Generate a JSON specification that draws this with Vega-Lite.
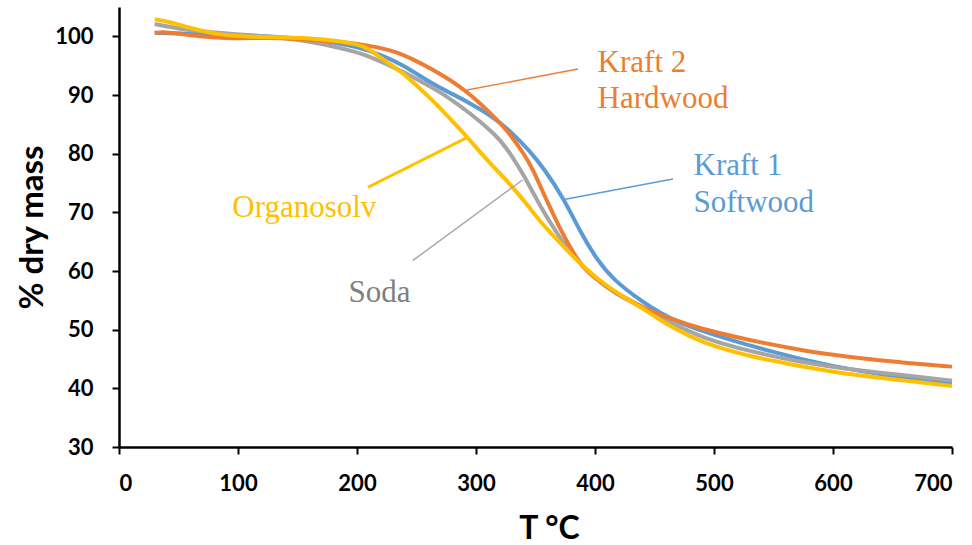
{
  "$schema": "https://vega.github.io/schema/vega-lite/v6.json",
  "width": 833,
  "height": 440,
  "autosize": "none",
  "padding": {"left": 119, "top": 7, "right": 20, "bottom": 98},
  "background": "white",
  "config": {"view": {"stroke": null}},
  "datasets": {
    "curves": [
      {"s":"Kraft 1","T":30,"m":100.6},{"s":"Kraft 1","T":50,"m":100.5},{"s":"Kraft 1","T":80,"m":100.3},{"s":"Kraft 1","T":100,"m":100.2},{"s":"Kraft 1","T":130,"m":100.0},{"s":"Kraft 1","T":160,"m":99.5},{"s":"Kraft 1","T":180,"m":99.0},{"s":"Kraft 1","T":200,"m":98.2},{"s":"Kraft 1","T":220,"m":96.9},{"s":"Kraft 1","T":240,"m":95.0},{"s":"Kraft 1","T":262,"m":92.0},{"s":"Kraft 1","T":280,"m":90.2},{"s":"Kraft 1","T":295,"m":88.6},{"s":"Kraft 1","T":310,"m":86.8},{"s":"Kraft 1","T":320,"m":85.3},{"s":"Kraft 1","T":330,"m":83.6},{"s":"Kraft 1","T":345,"m":80.5},{"s":"Kraft 1","T":357,"m":77.5},{"s":"Kraft 1","T":374,"m":72.3},{"s":"Kraft 1","T":388,"m":66.5},{"s":"Kraft 1","T":402,"m":61.8},{"s":"Kraft 1","T":416,"m":58.4},{"s":"Kraft 1","T":438,"m":55.0},{"s":"Kraft 1","T":455,"m":52.8},{"s":"Kraft 1","T":472,"m":51.1},{"s":"Kraft 1","T":490,"m":49.8},{"s":"Kraft 1","T":510,"m":48.5},{"s":"Kraft 1","T":530,"m":47.3},{"s":"Kraft 1","T":550,"m":46.2},{"s":"Kraft 1","T":575,"m":44.9},{"s":"Kraft 1","T":600,"m":43.8},{"s":"Kraft 1","T":625,"m":42.9},{"s":"Kraft 1","T":650,"m":42.1},{"s":"Kraft 1","T":675,"m":41.5},{"s":"Kraft 1","T":700,"m":41.0},
      {"s":"Soda","T":30,"m":102.1},{"s":"Soda","T":55,"m":101.1},{"s":"Soda","T":88,"m":100.5},{"s":"Soda","T":110,"m":100.2},{"s":"Soda","T":140,"m":99.7},{"s":"Soda","T":160,"m":99.1},{"s":"Soda","T":180,"m":98.3},{"s":"Soda","T":200,"m":97.3},{"s":"Soda","T":210,"m":96.6},{"s":"Soda","T":236,"m":94.3},{"s":"Soda","T":262,"m":91.4},{"s":"Soda","T":276,"m":89.7},{"s":"Soda","T":295,"m":86.9},{"s":"Soda","T":312,"m":84.0},{"s":"Soda","T":320,"m":82.4},{"s":"Soda","T":330,"m":79.7},{"s":"Soda","T":340,"m":76.4},{"s":"Soda","T":354,"m":71.0},{"s":"Soda","T":368,"m":66.4},{"s":"Soda","T":382,"m":62.4},{"s":"Soda","T":398,"m":59.0},{"s":"Soda","T":418,"m":56.0},{"s":"Soda","T":438,"m":54.0},{"s":"Soda","T":450,"m":52.6},{"s":"Soda","T":466,"m":51.0},{"s":"Soda","T":490,"m":48.6},{"s":"Soda","T":530,"m":46.3},{"s":"Soda","T":572,"m":44.5},{"s":"Soda","T":615,"m":43.2},{"s":"Soda","T":657,"m":42.3},{"s":"Soda","T":700,"m":41.3},
      {"s":"Kraft 2","T":30,"m":100.6},{"s":"Kraft 2","T":40,"m":100.8},{"s":"Kraft 2","T":68,"m":99.9},{"s":"Kraft 2","T":96,"m":99.6},{"s":"Kraft 2","T":124,"m":99.8},{"s":"Kraft 2","T":150,"m":99.6},{"s":"Kraft 2","T":180,"m":99.1},{"s":"Kraft 2","T":200,"m":98.8},{"s":"Kraft 2","T":230,"m":97.7},{"s":"Kraft 2","T":250,"m":95.8},{"s":"Kraft 2","T":264,"m":94.3},{"s":"Kraft 2","T":278,"m":92.6},{"s":"Kraft 2","T":292,"m":90.6},{"s":"Kraft 2","T":305,"m":88.3},{"s":"Kraft 2","T":318,"m":85.7},{"s":"Kraft 2","T":326,"m":84.0},{"s":"Kraft 2","T":340,"m":80.1},{"s":"Kraft 2","T":348,"m":77.3},{"s":"Kraft 2","T":358,"m":72.6},{"s":"Kraft 2","T":362,"m":71.0},{"s":"Kraft 2","T":371,"m":67.0},{"s":"Kraft 2","T":382,"m":63.0},{"s":"Kraft 2","T":390,"m":60.6},{"s":"Kraft 2","T":399,"m":59.0},{"s":"Kraft 2","T":413,"m":56.8},{"s":"Kraft 2","T":424,"m":55.6},{"s":"Kraft 2","T":446,"m":53.2},{"s":"Kraft 2","T":466,"m":51.7},{"s":"Kraft 2","T":488,"m":50.2},{"s":"Kraft 2","T":530,"m":48.2},{"s":"Kraft 2","T":572,"m":46.5},{"s":"Kraft 2","T":615,"m":45.3},{"s":"Kraft 2","T":657,"m":44.4},{"s":"Kraft 2","T":700,"m":43.7},
      {"s":"Organosolv","T":30,"m":102.9},{"s":"Organosolv","T":40,"m":102.6},{"s":"Organosolv","T":60,"m":101.4},{"s":"Organosolv","T":82,"m":100.3},{"s":"Organosolv","T":110,"m":99.9},{"s":"Organosolv","T":140,"m":99.8},{"s":"Organosolv","T":165,"m":99.6},{"s":"Organosolv","T":180,"m":99.3},{"s":"Organosolv","T":200,"m":98.7},{"s":"Organosolv","T":210,"m":97.9},{"s":"Organosolv","T":220,"m":96.3},{"s":"Organosolv","T":237,"m":94.0},{"s":"Organosolv","T":245,"m":92.6},{"s":"Organosolv","T":264,"m":89.0},{"s":"Organosolv","T":270,"m":87.7},{"s":"Organosolv","T":290,"m":83.5},{"s":"Organosolv","T":309,"m":78.9},{"s":"Organosolv","T":329,"m":74.8},{"s":"Organosolv","T":345,"m":70.8},{"s":"Organosolv","T":354,"m":68.4},{"s":"Organosolv","T":371,"m":64.7},{"s":"Organosolv","T":390,"m":60.7},{"s":"Organosolv","T":410,"m":57.3},{"s":"Organosolv","T":438,"m":53.9},{"s":"Organosolv","T":452,"m":52.0},{"s":"Organosolv","T":466,"m":50.3},{"s":"Organosolv","T":488,"m":47.9},{"s":"Organosolv","T":530,"m":45.4},{"s":"Organosolv","T":572,"m":43.8},{"s":"Organosolv","T":615,"m":42.3},{"s":"Organosolv","T":657,"m":41.4},{"s":"Organosolv","T":700,"m":40.4}
    ],
    "leaders": [
      {"s":"Kraft 2","x1":292.4,"y1":90.85,"x2":385.7,"y2":94.43},
      {"s":"Kraft 1","x1":375.0,"y1":72.22,"x2":465.5,"y2":75.68},
      {"s":"Soda","x1":246.7,"y1":61.76,"x2":339.1,"y2":75.51},
      {"s":"Organosolv","x1":209.2,"y1":74.27,"x2":292.4,"y2":82.72}
    ],
    "labels": [
      {"s":"Kraft 2","t":"Kraft 2","x":402.2,"y":93.97},
      {"s":"Kraft 2","t":"Hardwood","x":402.2,"y":87.78},
      {"s":"Kraft 1","t":"Kraft 1","x":482.8,"y":76.36},
      {"s":"Kraft 1","t":"Softwood","x":482.8,"y":70.11},
      {"s":"Organosolv","t":"Organosolv","x":95.2,"y":69.26},
      {"s":"Soda","t":"Soda","x":192.9,"y":54.67}
    ]
  },
  "resolve": {"scale": {"color": "independent"}},
  "layer": [
    {
      "data": {"name": "curves"},
      "mark": {"type": "line", "strokeWidth": 4, "interpolate": "basis"},
      "encoding": {
        "x": {"field": "T", "type": "quantitative",
          "scale": {"domain": [0, 700], "nice": false, "zero": false},
          "axis": {"values": [0,100,200,300,400,500,600,700], "title": "T  °C", "grid": false,
            "domainColor": "black", "domainWidth": 2.5, "tickColor": "black", "tickWidth": 2, "tickSize": 7,
            "labelFont": "Lato", "labelFontWeight": "bold", "labelFontSize": 22, "labelColor": "black", "labelPadding": 19,
            "titleFont": "Lato", "titleFontWeight": "bold", "titleFontSize": 32, "titleColor": "black",
            "titleBaseline": "alphabetic", "titleAlign": "center", "titleX": 430, "titleY": 91}},
        "y": {"field": "m", "type": "quantitative",
          "scale": {"domain": [30, 105], "nice": false, "zero": false},
          "axis": {"values": [30,40,50,60,70,80,90,100], "title": "% dry mass", "grid": false,
            "domainColor": "black", "domainWidth": 2.5, "tickColor": "black", "tickWidth": 2, "tickSize": 7,
            "labelFont": "Lato", "labelFontWeight": "bold", "labelFontSize": 22, "labelColor": "black", "labelPadding": 19,
            "titleFont": "Lato", "titleFontWeight": "bold", "titleFontSize": 33, "titleColor": "black",
            "titleBaseline": "alphabetic", "titleX": -77}},
        "color": {"field": "s", "type": "nominal", "legend": null,
          "scale": {"domain": ["Kraft 1", "Soda", "Kraft 2", "Organosolv"], "range": ["#5B9BD5", "#A5A5A5", "#ED7D31", "#FFC000"]}},
        "order": {"field": "T", "type": "quantitative"}
      }
    },
    {
      "data": {"name": "leaders"},
      "transform": [{"filter": "datum.s !== 'Organosolv'"}],
      "mark": {"type": "rule", "strokeWidth": 1.4},
      "encoding": {
        "x": {"field": "x1", "type": "quantitative"},
        "y": {"field": "y1", "type": "quantitative"},
        "x2": {"field": "x2"},
        "y2": {"field": "y2"},
        "color": {"field": "s", "type": "nominal", "legend": null,
          "scale": {"domain": ["Kraft 1", "Soda", "Kraft 2", "Organosolv"], "range": ["#5B9BD5", "#A5A5A5", "#ED7D31", "#FFC000"]}}
      }
    },
    {
      "data": {"name": "leaders"},
      "transform": [{"filter": "datum.s === 'Organosolv'"}],
      "mark": {"type": "rule", "strokeWidth": 3},
      "encoding": {
        "x": {"field": "x1", "type": "quantitative"},
        "y": {"field": "y1", "type": "quantitative"},
        "x2": {"field": "x2"},
        "y2": {"field": "y2"},
        "color": {"field": "s", "type": "nominal", "legend": null,
          "scale": {"domain": ["Kraft 1", "Soda", "Kraft 2", "Organosolv"], "range": ["#5B9BD5", "#A5A5A5", "#ED7D31", "#FFC000"]}}
      }
    },
    {
      "data": {"name": "labels"},
      "mark": {"type": "text", "font": "Liberation Serif", "fontSize": 31, "align": "left", "baseline": "alphabetic"},
      "encoding": {
        "x": {"field": "x", "type": "quantitative"},
        "y": {"field": "y", "type": "quantitative"},
        "text": {"field": "t"},
        "color": {"field": "s", "type": "nominal", "legend": null,
          "scale": {"domain": ["Kraft 1", "Soda", "Kraft 2", "Organosolv"], "range": ["#5B9BD5", "#7F7F7F", "#ED7D31", "#FFC000"]}}
      }
    }
  ]
}
